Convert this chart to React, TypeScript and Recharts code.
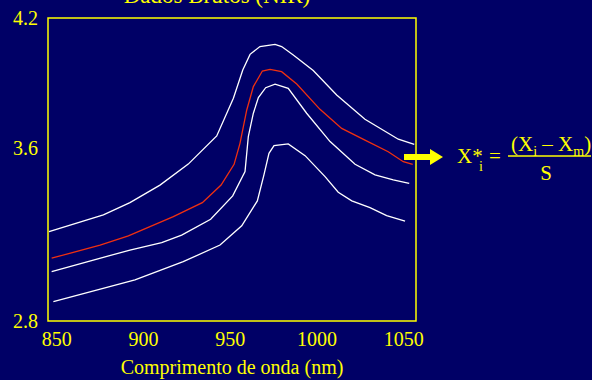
import { LineChart, Line, XAxis, YAxis, ReferenceArea, Label } from "recharts";

// NIR raw spectra (absorbance vs wavelength)
const X_TICKS = [850, 900, 950, 1000, 1050];
const Y_TICKS = [2.8, 3.6, 4.2];

const topWl = [845.6, 876.9, 892.2, 909.5, 925.8, 942.2, 951.8, 957.2, 961.4, 967.1, 975.8, 979.6, 986.3, 997.8, 1011.3, 1027.6, 1046.8, 1056.0];
const topAbs = [3.213, 3.29, 3.347, 3.428, 3.525, 3.655, 3.829, 3.96, 4.032, 4.068, 4.078, 4.068, 4.029, 3.957, 3.844, 3.732, 3.64, 3.616];

const meanWl = [847.1, 875.0, 891.3, 917.2, 933.9, 944.7, 952.2, 955.6, 959.5, 963.3, 968.5, 972.9, 979.6, 988.3, 1001.7, 1014.2, 1027.6, 1041.0, 1049.7, 1055.1];
const meanAbs = [3.09, 3.151, 3.193, 3.282, 3.347, 3.428, 3.524, 3.621, 3.775, 3.883, 3.955, 3.963, 3.952, 3.895, 3.778, 3.69, 3.636, 3.582, 3.536, 3.524];

const midWl = [847.1, 892.2, 910.5, 922.0, 938.7, 951.4, 958.5, 960.4, 963.3, 966.2, 970.4, 975.8, 983.4, 994.0, 1007.5, 1021.9, 1033.4, 1043.9, 1053.1];
const midAbs = [3.028, 3.128, 3.162, 3.197, 3.27, 3.378, 3.49, 3.652, 3.76, 3.832, 3.878, 3.894, 3.875, 3.76, 3.629, 3.524, 3.475, 3.452, 3.436];

const lowWl = [848.1, 895.1, 922.9, 944.1, 956.6, 965.6, 969.4, 972.3, 975.2, 983.4, 993.1, 1004.6, 1012.2, 1020.0, 1030.5, 1040.1, 1050.7];
const lowAbs = [2.889, 2.99, 3.074, 3.151, 3.24, 3.355, 3.475, 3.575, 3.61, 3.618, 3.564, 3.467, 3.395, 3.355, 3.324, 3.287, 3.262];

const toPoints = (wl: number[], abs: number[]) => wl.map((w, i) => ({ wl: w, v: abs[i] }));

const BG = "#000066";
const YELLOW = "#ffff00";
const SERIF = "'Liberation Serif', 'Times New Roman', serif";

const series = [
  { name: "top", data: toPoints(topWl, topAbs), color: "#ffffff" },
  { name: "mean", data: toPoints(meanWl, meanAbs), color: "#f03010" },
  { name: "mid", data: toPoints(midWl, midAbs), color: "#ffffff" },
  { name: "low", data: toPoints(lowWl, lowAbs), color: "#ffffff" },
];

export default function App() {
  return (
    <div
      style={{
        position: "absolute",
        left: 0,
        top: 0,
        width: 592,
        height: 380,
        background: BG,
        overflow: "hidden",
        fontFamily: SERIF,
      }}
    >
      {/* title is partly off the top edge, as on the slide */}
      <div
        style={{
          position: "absolute",
          left: 0,
          top: -16,
          width: 434,
          textAlign: "center",
          fontSize: 23,
          lineHeight: "23px",
          color: YELLOW,
        }}
      >
        Dados Brutos (NIR)
      </div>

      <LineChart width={592} height={380} margin={{ top: 18, right: 176, bottom: 0, left: 0 }}>
        <XAxis
          dataKey="wl"
          type="number"
          domain={[845, 1057]}
          ticks={X_TICKS}
          axisLine={false}
          tickLine={false}
          tickSize={0}
          tickMargin={11}
          height={59}
          tick={{ fill: YELLOW, fontSize: 20, fontFamily: SERIF }}
        >
          <Label
            value="Comprimento de onda (nm)"
            position="insideBottom"
            offset={6}
            fill={YELLOW}
            fontSize={20}
            fontFamily={SERIF}
          />
        </XAxis>
        <YAxis
          type="number"
          domain={[2.8, 4.2]}
          ticks={Y_TICKS}
          tickFormatter={(v: number) => v.toFixed(1)}
          axisLine={false}
          tickLine={false}
          tickSize={0}
          tickMargin={10}
          width={48}
          tick={{ fill: YELLOW, fontSize: 20, fontFamily: SERIF }}
        />
        <ReferenceArea x1={845} x2={1057} y1={2.8} y2={4.2} fill="none" stroke={YELLOW} strokeWidth={1.5} />
        {series.map((s) => (
          <Line
            key={s.name}
            data={s.data}
            dataKey="v"
            stroke={s.color}
            strokeWidth={1.3}
            dot={false}
            activeDot={false}
            isAnimationActive={false}
          />
        ))}
      </LineChart>

      {/* arrow + autoscaling formula */}
      <svg
        width={592}
        height={380}
        style={{ position: "absolute", left: 0, top: 0, pointerEvents: "none" }}
        fontFamily={SERIF}
        fill={YELLOW}
      >
        <rect x={404} y={154} width={28} height={6} fill={YELLOW} />
        <polygon points="430,149 443,157 430,165" fill={YELLOW} />
        <text x={457} y={163} fontSize={21}>X*</text>
        <text x={479} y={171} fontSize={14}>i</text>
        <text x={489} y={163} fontSize={21}>=</text>
        <line x1={508} y1={156} x2={591} y2={156} stroke={YELLOW} strokeWidth={1.5} />
        <text x={511} y={151} fontSize={21}>
          (X
          <tspan fontSize={14} dy={5}>i</tspan>
          <tspan dy={-5}> – X</tspan>
          <tspan fontSize={14} dy={5}>m</tspan>
          <tspan dy={-5}>)</tspan>
        </text>
        <text x={546} y={180} fontSize={21} textAnchor="middle">S</text>
      </svg>
    </div>
  );
}
